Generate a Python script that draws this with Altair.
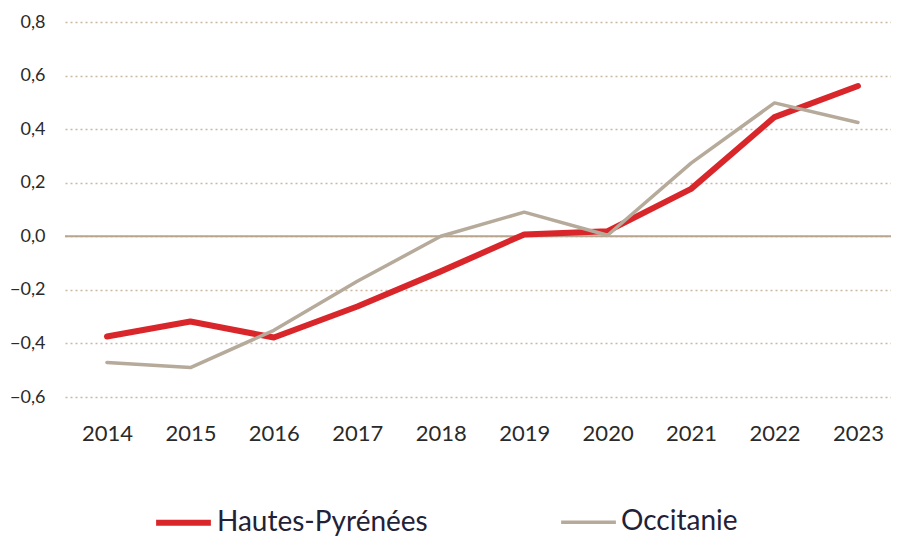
import altair as alt
import pandas as pd

years = [2014, 2015, 2016, 2017, 2018, 2019, 2020, 2021, 2022, 2023]
hautes_pyrenees = [-0.374, -0.318, -0.378, -0.262, -0.131, 0.007, 0.019, 0.177, 0.445, 0.561]
occitanie = [-0.471, -0.490, -0.351, -0.168, 0.000, 0.090, 0.004, 0.273, 0.498, 0.425]
series_names = ["Hautes-Pyrénées", "Occitanie"]
series_colors = ["#d9262a", "#b6aa9a"]
series_widths = [6, 3.5]
y_ticks = [-0.6, -0.4, -0.2, 0.0, 0.2, 0.4, 0.6, 0.8]

df = pd.DataFrame({
    "year": years + years,
    "value": hautes_pyrenees + occitanie,
    "series": [series_names[0]] * len(years) + [series_names[1]] * len(years),
})

FONT = "Lato"

legend = alt.Legend(
    title=None,
    orient="none",
    legendX=88,
    legendY=470,
    direction="horizontal",
    symbolType="stroke",
    symbolSize=3000,
    labelFont=FONT,
    labelFontSize=28,
    labelColor="#1f2238",
    labelOffset=3,
    columnPadding=126,
    labelLimit=400,
)

lines = alt.Chart(df).mark_line(strokeCap="round", strokeJoin="round").encode(
    x=alt.X(
        "year:Q",
        scale=alt.Scale(domain=[2013.497, 2023.396], nice=False, zero=False),
        axis=alt.Axis(
            title=None, values=years, format="d", labelAngle=0, domain=False, ticks=False,
            grid=False, labelPadding=26, labelFontSize=22, labelFont=FONT,
            labelColor="#2a2a2a", labelFlush=False,
        ),
    ),
    y=alt.Y(
        "value:Q",
        scale=alt.Scale(domain=[-0.6, 0.8], nice=False, zero=False),
        axis=alt.Axis(
            title=None, values=y_ticks, domain=False, ticks=False,
            labelExpr="replace(format(datum.value, '.1f'), '.', ',')",
            labelPadding=20, labelFontSize=18, labelFont=FONT,
            labelColor="#2a2a2a",
            grid=True, gridDash=[2, 3], gridColor="#c9b9a3", gridWidth=1.5,
        ),
    ),
    color=alt.Color("series:N", scale=alt.Scale(domain=series_names, range=series_colors), legend=legend),
    strokeWidth=alt.StrokeWidth("series:N", scale=alt.Scale(domain=series_names, range=series_widths), legend=legend),
)

zero = alt.Chart(pd.DataFrame({"y": [0.0]})).mark_rule(color="#b9a58e", strokeWidth=2).encode(y="y:Q")

chart = alt.layer(zero, lines).properties(
    width=826,
    height=375,
    padding={"left": 57, "top": 14, "right": 0, "bottom": 150},
    autosize=alt.AutoSizeParams(type="none"),
).configure_view(stroke=None)

chart.save("out.html", embed_options={"renderer": "svg", "actions": False})
